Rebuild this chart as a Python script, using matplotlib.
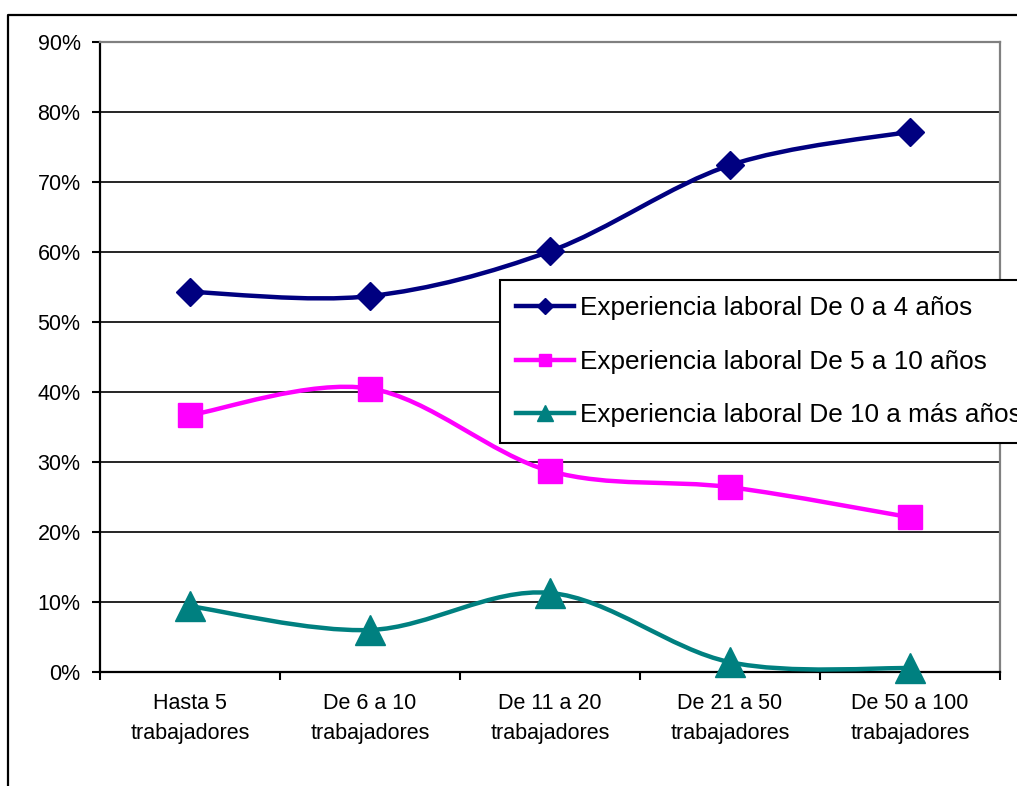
import matplotlib
matplotlib.use("Agg")
import matplotlib.pyplot as plt
from matplotlib.path import Path
from matplotlib.patches import PathPatch
from matplotlib.lines import Line2D
from matplotlib.ticker import FixedLocator, PercentFormatter

plt.rcParams["font.family"] = ["Liberation Sans", "DejaVu Sans"]

categories = ["Hasta 5\ntrabajadores", "De 6 a 10\ntrabajadores", "De 11 a 20\ntrabajadores",
              "De 21 a 50\ntrabajadores", "De 50 a 100\ntrabajadores"]
exp_0_4 = [54.3, 53.7, 60.1, 72.4, 77.2]
exp_5_10 = [36.7, 40.5, 28.7, 26.4, 22.1]
exp_10_mas = [9.4, 6.0, 11.3, 1.4, 0.55]
labels = ["Experiencia laboral De 0 a 4 años",
          "Experiencia laboral De 5 a 10 años",
          "Experiencia laboral De 10 a más años"]
colors = ["#000080", "#FF00FF", "#008080"]
markers = ["D", "s", "^"]
msizes = [14, 17, 21]


def smooth_path(xs, ys):
    # Excel-like smoothed line: cubic Bezier segments through the data points
    pts = list(zip(xs, ys))
    verts, codes = [pts[0]], [Path.MOVETO]
    n = len(pts)
    for i in range(n - 1):
        p0 = pts[max(i - 1, 0)]
        p1, p2 = pts[i], pts[i + 1]
        p3 = pts[min(i + 2, n - 1)]
        c1 = (p1[0] + (p2[0] - p0[0]) / 6, p1[1] + (p2[1] - p0[1]) / 6)
        c2 = (p2[0] - (p3[0] - p1[0]) / 6, p2[1] - (p3[1] - p1[1]) / 6)
        verts += [c1, c2, p2]
        codes += [Path.CURVE4] * 3
    return Path(verts, codes)


fig = plt.figure(figsize=(10.17, 7.86), dpi=100)
ax = fig.add_axes([100 / 1017, 114 / 786, 900 / 1017, 630 / 786])

x = list(range(len(categories)))
handles = []
for ys, c, m, ms, lab in zip([exp_0_4, exp_5_10, exp_10_mas], colors, markers, msizes, labels):
    ax.add_patch(PathPatch(smooth_path(x, ys), fill=False, ec=c, lw=3.2,
                           capstyle="round", joinstyle="round", zorder=3))
    ax.plot(x, ys, linestyle="none", marker=m, ms=ms, color=c, zorder=4, clip_on=False)
    handles.append(Line2D([], [], color=c, lw=3.2, marker=m, ms=ms * 0.55))

ax.set_xlim(-0.5, 4.5)
ax.set_ylim(0, 90)
ax.yaxis.set_major_locator(FixedLocator(range(0, 91, 10)))
ax.yaxis.set_major_formatter(PercentFormatter(decimals=0))
ax.grid(axis="y", color="black", lw=1.2)
ax.set_axisbelow(True)

ax.set_xticks(x)
ax.set_xticklabels(categories, linespacing=1.6)
ax.set_xticks([i - 0.5 for i in range(len(categories) + 1)], minor=True)
ax.tick_params(axis="x", which="major", length=0, pad=15, labelsize=15.5)
ax.tick_params(axis="x", which="minor", length=6, width=1.5, direction="out")
ax.tick_params(axis="y", length=6, width=1.5, direction="out", pad=8, labelsize=15.5)

for s in ("left", "bottom"):
    ax.spines[s].set_linewidth(1.6)
    ax.spines[s].set_color("black")
for s in ("top", "right"):
    ax.spines[s].set_linewidth(1.6)
    ax.spines[s].set_color("#808080")

leg = fig.legend(handles, labels, loc="upper left",
                 bbox_to_anchor=(500 / 1017, 1 - 280 / 786), bbox_transform=fig.transFigure,
                 fontsize=18.8, frameon=True, fancybox=False, framealpha=1,
                 edgecolor="black", borderpad=0.62, labelspacing=1.13,
                 handlelength=2.2, handletextpad=0.25, borderaxespad=0)
leg.get_frame().set_linewidth(1.5)

# outer chart-area border (clipped by the figure on right and bottom)
fig.add_artist(Line2D([8 / 1017, 8 / 1017, 1.0], [0.0, 1 - 15 / 786, 1 - 15 / 786],
                      transform=fig.transFigure, color="black", lw=1.6))

fig.savefig("out.png", dpi=100)
